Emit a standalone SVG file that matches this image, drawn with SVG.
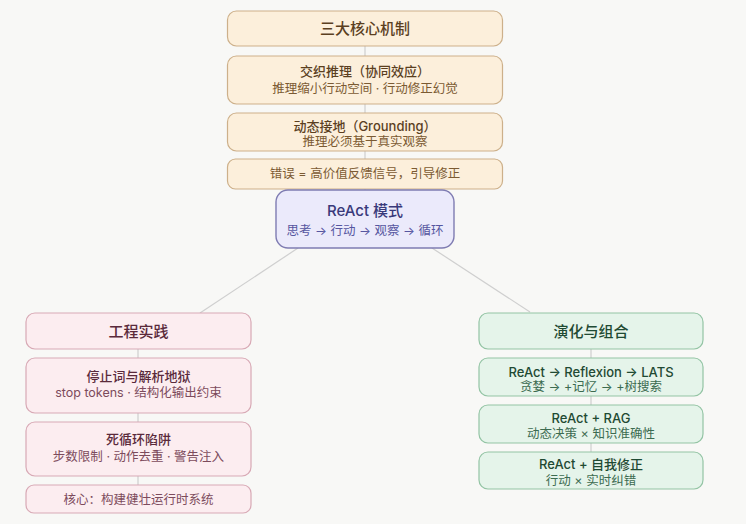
<svg xmlns="http://www.w3.org/2000/svg" width="746" height="524" viewBox="0 0 746 524">
<defs>
<style>
text{font-family:"Inter","Noto Sans CJK SC",sans-serif;text-anchor:middle}
.t{font-size:13px;font-weight:500}
.s{font-size:12.5px}
.big{font-size:15px;font-weight:500}
.o rect{fill:#fcefdb;stroke:#cdb08a;stroke-width:1.2}
.o .t,.o .big{fill:#5b3f1f}.o .s{fill:#7b5a32}
.p rect{fill:#fcedf0;stroke:#d8a9b5;stroke-width:1.2}
.p .t,.p .big{fill:#5a2a3b}.p .s{fill:#7c4b5c}
.g rect{fill:#e5f4ea;stroke:#93c4a4;stroke-width:1.2}
.g .t,.g .big{fill:#1f4a33}.g .s{fill:#3c6b50}
.v rect{fill:#ebeafb;stroke:#7f7cb2;stroke-width:1.4}
.v .big{fill:#39397a}.v .s{fill:#5656a0}
.c line{stroke:#cfcfcf;stroke-width:1.2}
</style>
</defs>
<rect width="746" height="524" fill="#f8f8f6"/>
<g class="c" id="connectors">
<line x1="365" y1="46" x2="365" y2="190"/>
<line x1="138" y1="349" x2="138" y2="485"/>
<line x1="591" y1="349" x2="591" y2="452"/>
<line x1="298" y1="248" x2="200" y2="313"/>
<line x1="432" y1="248" x2="530" y2="312"/>
</g>
<g id="n-mech" class="o"><rect x="227.5" y="11" width="275" height="35" rx="9"/><text class="big" x="365" y="34">三大核心机制</text></g>
<g id="n-interleave" class="o"><rect x="227.5" y="56" width="275" height="48" rx="9"/><text class="t" x="365" y="76">交织推理（协同效应）</text><text class="s" x="365" y="93">推理缩小行动空间 · 行动修正幻觉</text></g>
<g id="n-ground" class="o"><rect x="227.5" y="113" width="275" height="38" rx="9"/><text class="t" x="365" y="131">动态接地（Grounding）</text><text class="s" x="365" y="146">推理必须基于真实观察</text></g>
<g id="n-error" class="o"><rect x="227.5" y="159" width="275" height="30" rx="8"/><text class="s" x="365" y="178">错误 = 高价值反馈信号，引导修正</text></g>
<g id="n-react" class="v"><rect x="276" y="190" width="178" height="58" rx="12"/><text class="big" x="365" y="216">ReAct 模式</text><text class="s" x="365" y="235">思考 → 行动 → 观察 → 循环</text></g>
<g id="n-eng" class="p"><rect x="26" y="313" width="225" height="36" rx="9"/><text class="big" x="138.5" y="337">工程实践</text></g>
<g id="n-stop" class="p"><rect x="26" y="358" width="225" height="55" rx="9"/><text class="t" x="138.5" y="381">停止词与解析地狱</text><text class="s" x="138.5" y="397">stop tokens · 结构化输出约束</text></g>
<g id="n-loop" class="p"><rect x="26" y="422" width="225" height="54" rx="9"/><text class="t" x="138.5" y="444">死循环陷阱</text><text class="s" x="138.5" y="461">步数限制 · 动作去重 · 警告注入</text></g>
<g id="n-core" class="p"><rect x="26" y="485" width="225" height="28" rx="8"/><text class="s" x="138.5" y="504">核心：构建健壮运行时系统</text></g>
<g id="n-evo" class="g"><rect x="479" y="313" width="224" height="36" rx="9"/><text class="big" x="591" y="337">演化与组合</text></g>
<g id="n-lats" class="g"><rect x="479" y="358" width="224" height="38" rx="9"/><text class="t" x="591" y="377">ReAct → Reflexion → LATS</text><text class="s" x="591" y="391">贪婪 → +记忆 → +树搜索</text></g>
<g id="n-rag" class="g"><rect x="479" y="405" width="224" height="38" rx="9"/><text class="t" x="591" y="423">ReAct + RAG</text><text class="s" x="591" y="438">动态决策 × 知识准确性</text></g>
<g id="n-self" class="g"><rect x="479" y="452" width="224" height="37" rx="9"/><text class="t" x="591" y="469">ReAct + 自我修正</text><text class="s" x="591" y="485">行动 × 实时纠错</text></g>
</svg>
